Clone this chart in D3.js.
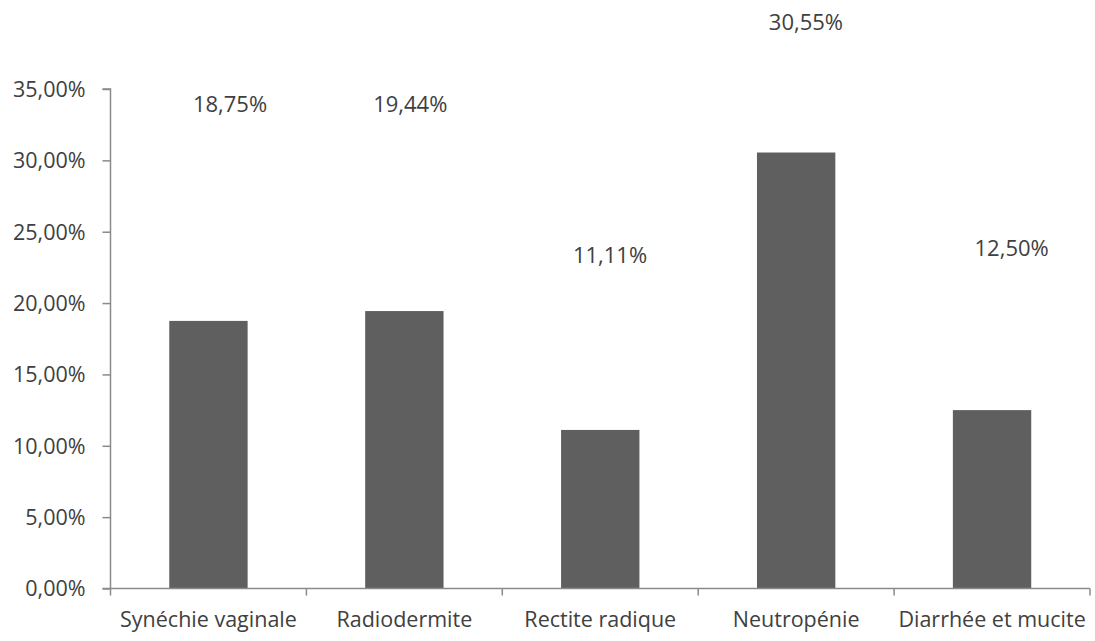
<!DOCTYPE html>
<html><head><meta charset="utf-8">
<script src="https://cdn.jsdelivr.net/npm/d3@7/dist/d3.min.js"></script>
<style>
html,body{margin:0;padding:0;background:#fff;}
text{font-family:"Open Sans",sans-serif;fill:#404040;}
</style></head>
<body><svg id="chart" width="1095" height="641"></svg>
<script>
const categories = ["Synéchie vaginale","Radiodermite","Rectite radique","Neutropénie","Diarrhée et mucite"];
const values = [18.75, 19.44, 11.11, 30.55, 12.50];
const valueLabels = ["18,75%","19,44%","11,11%","30,55%","12,50%"];
const yTicks = [0,5,10,15,20,25,30,35];
const yTickLabels = ["0,00%","5,00%","10,00%","15,00%","20,00%","25,00%","30,00%","35,00%"];
// manually placed data labels (as in the source): [value-axis level, band fraction]
const labelLevel = [33.4, 33.4, 22.8, 39.1, 23.3];
const labelBandFrac = [0.61, 0.53, 0.55, 0.55, 0.60];

const svg = d3.select("#chart");
const x = d3.scaleBand().domain(categories).range([110.5, 1090]).paddingInner(0.6).paddingOuter(0.3);
const xb = d3.scaleBand().domain(categories).range([110.5, 1090]);
const y = d3.scaleLinear().domain([0, 35]).range([588.5, 89]);
const axisColor = "#8a8a8a";
const fs = "21.5px";

// bars
svg.selectAll("rect.bar").data(values).enter().append("rect")
  .attr("class","bar")
  .attr("x",(d,i)=>x(categories[i]))
  .attr("width",x.bandwidth())
  .attr("y",d=>y(d))
  .attr("height",d=>y(0)-y(d))
  .attr("fill","#5f5f5f");

// y axis
const yAxis = d3.axisLeft(y).tickValues(yTicks).tickFormat((d,i)=>yTickLabels[i]).tickSize(8).tickPadding(17);
const gy = svg.append("g").attr("transform","translate(110.5,0)").call(yAxis);
gy.select(".domain").attr("stroke",axisColor).attr("stroke-width",1.5).attr("d","M-8,89H0V588.5");
gy.selectAll(".tick line").attr("stroke",axisColor).attr("stroke-width",1.5);
gy.selectAll(".tick text").style("font-size",fs).attr("fill","#404040").attr("font-family","Open Sans").attr("dy","0.34em");

// x axis baseline
svg.append("line").attr("x1",102.5).attr("x2",1090).attr("y1",y(0)).attr("y2",y(0))
  .attr("stroke",axisColor).attr("stroke-width",1.5);
// category boundary ticks
const bounds = categories.map(c=>xb(c)+xb.bandwidth()).concat([110.5]);
svg.selectAll("line.xt").data(bounds).enter().append("line")
  .attr("x1",d=>d).attr("x2",d=>d).attr("y1",y(0)).attr("y2",y(0)+7)
  .attr("stroke",axisColor).attr("stroke-width",1.5);
// category labels
svg.selectAll("text.cat").data(categories).enter().append("text")
  .attr("x",d=>xb(d)+xb.bandwidth()/2).attr("y",627)
  .attr("text-anchor","middle").style("font-size",fs).text(d=>d);

// data labels
svg.selectAll("text.val").data(valueLabels).enter().append("text")
  .attr("x",(d,i)=>xb(categories[i])+xb.bandwidth()*labelBandFrac[i])
  .attr("y",(d,i)=>y(labelLevel[i]))
  .attr("text-anchor","middle").style("font-size","22px").text(d=>d);
</script></body></html>
